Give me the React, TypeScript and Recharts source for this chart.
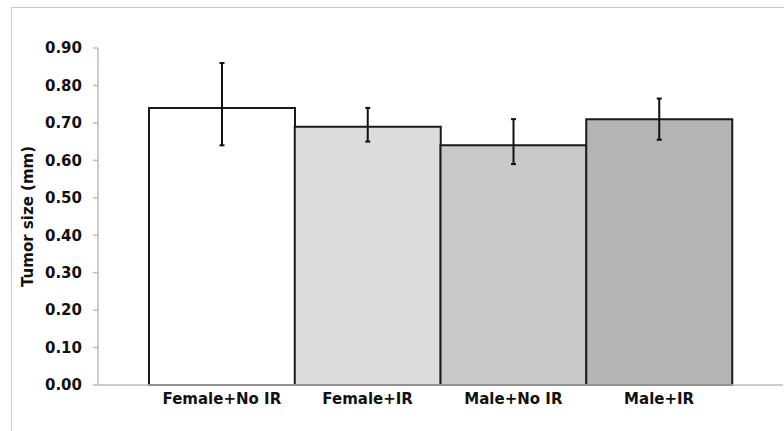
import React from "react";
import { Bar, BarChart, Cell, ErrorBar, Label, XAxis, YAxis } from "recharts";

const groups = ["Female+No IR", "Female+IR", "Male+No IR", "Male+IR"];
const tumorSize = [0.74, 0.69, 0.64, 0.71];
const errLow = [0.1, 0.04, 0.05, 0.055];
const errHigh = [0.12, 0.05, 0.07, 0.055];
const yTicks = [0, 0.1, 0.2, 0.3, 0.4, 0.5, 0.6, 0.7, 0.8, 0.9];

const barFills = ["#ffffff", "#dcdcdc", "#c9c9c9", "#b4b4b4"];
const font = "'DejaVu Sans', sans-serif";

const data = groups.map((group, i) => ({
  group,
  size: tumorSize[i],
  err: [errLow[i], errHigh[i]],
}));

const axisTick = { fill: "#111", fontFamily: font, fontWeight: 700, fontSize: 15 };

const YTitle = ({ viewBox }: any) => {
  const cy = viewBox.y + viewBox.height / 2;
  return (
    <text
      x={33}
      y={cy}
      transform={`rotate(-90, 33, ${cy})`}
      textAnchor="middle"
      fill="#111"
      fontFamily={font}
      fontWeight={700}
      fontSize={15}
    >
      Tumor size (mm)
    </text>
  );
};

export default function App() {
  return (
    <div
      style={{
        position: "absolute",
        left: 0,
        top: 0,
        width: 784,
        height: 431,
        overflow: "hidden",
        background: "#fff",
      }}
    >
      <div
        style={{
          position: "absolute",
          left: 11,
          top: 7,
          width: 900,
          height: 600,
          border: "1px solid #c8c8c8",
        }}
      />
      <BarChart
        width={784}
        height={431}
        data={data}
        margin={{ top: 48, right: 1, bottom: 0, left: 0 }}
        barCategoryGap={0}
        style={{ position: "absolute", left: 0, top: 0 }}
      >
        <XAxis
          dataKey="group"
          height={46}
          padding={{ left: 51, right: 51 }}
          tickLine={false}
          axisLine={{ stroke: "#bdbdbd", strokeWidth: 1.5 }}
          tick={axisTick}
          interval={0}
        />
        <YAxis
          width={98}
          domain={[0, 0.9]}
          ticks={yTicks}
          tickFormatter={(v: number) => v.toFixed(2)}
          tickSize={5}
          tickMargin={11}
          tickLine={{ stroke: "#bdbdbd", strokeWidth: 1.5 }}
          axisLine={{ stroke: "#bdbdbd", strokeWidth: 1.5 }}
          tick={axisTick}
        >
          <Label content={YTitle} />
        </YAxis>
        <Bar dataKey="size" stroke="#1a1a1a" strokeWidth={2} isAnimationActive={false}>
          {data.map((d, i) => (
            <Cell key={d.group} fill={barFills[i]} />
          ))}
          <ErrorBar dataKey="err" width={2.5} stroke="#111" strokeWidth={2} isAnimationActive={false} />
        </Bar>
      </BarChart>
    </div>
  );
}
